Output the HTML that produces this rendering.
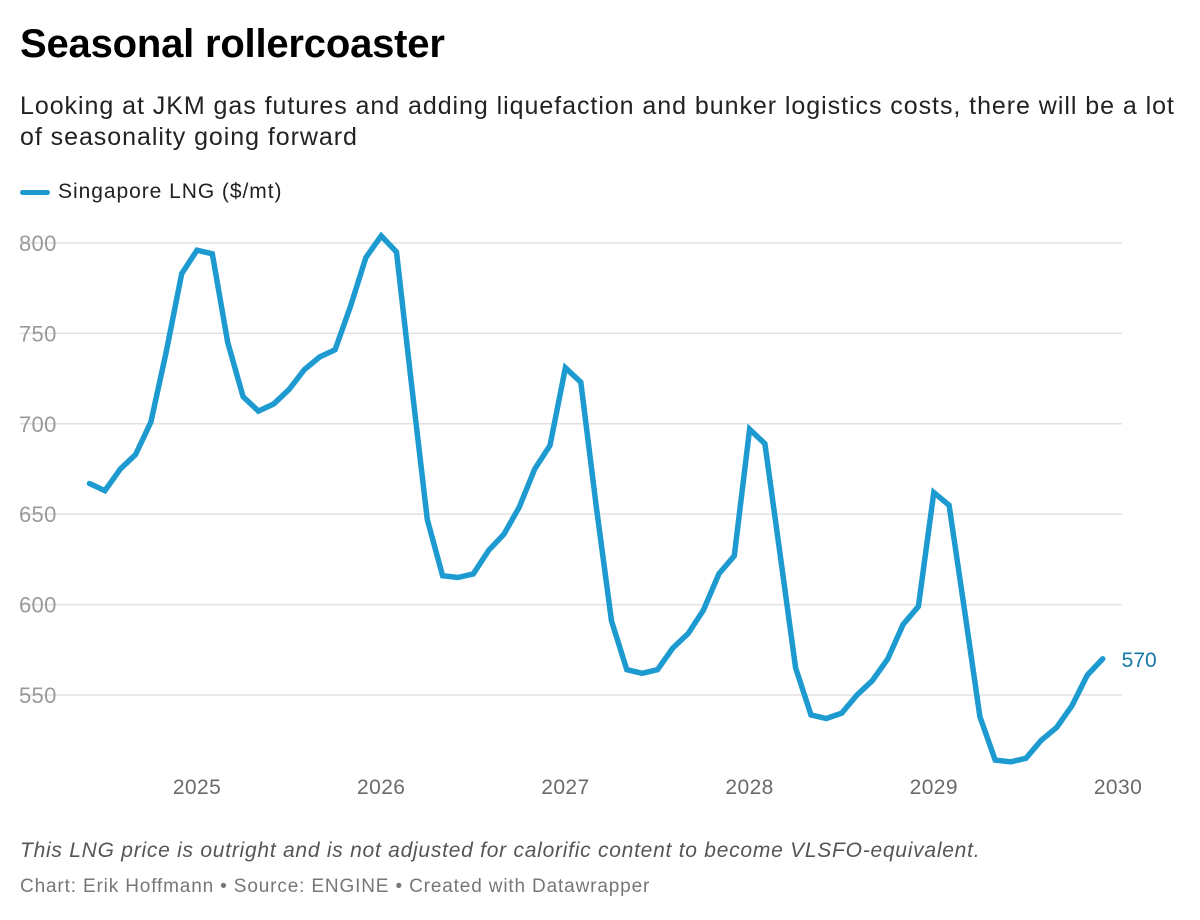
<!DOCTYPE html>
<html><head><meta charset="utf-8">
<style>
body{margin:0;background:#fff;font-family:"Liberation Sans",sans-serif;width:1200px;height:920px;overflow:hidden;position:relative}
#title{position:absolute;left:20px;top:22px;font-size:40px;font-weight:bold;color:#000;letter-spacing:-0.2px;white-space:nowrap}
#sub{position:absolute;left:20px;top:91px;font-size:25px;line-height:31px;color:#222;letter-spacing:0.95px;white-space:nowrap}
#legend{position:absolute;left:20px;top:180px;font-size:21px;color:#222;display:flex;align-items:center;letter-spacing:0.95px}
#legend span.sw{display:inline-block;width:30px;height:5px;background:#1d9bd0;border-radius:3px;margin-right:8px}
#note{position:absolute;left:20px;top:839px;font-size:21px;font-style:italic;color:#555;letter-spacing:0.75px;white-space:nowrap}
#credit{position:absolute;left:20px;top:876px;font-size:19px;color:#777;letter-spacing:0.85px;white-space:nowrap}
svg{position:absolute;left:0;top:0}
</style></head><body>
<div id="title">Seasonal rollercoaster</div>
<div id="sub">Looking at JKM gas futures and adding liquefaction and bunker logistics costs, there will be a lot<br>of seasonality going forward</div>
<div id="legend"><span class="sw"></span>Singapore LNG ($/mt)</div>
<svg id="chart" width="1200" height="920"></svg>
<div id="note">This LNG price is outright and is not adjusted for calorific content to become VLSFO-equivalent.</div>
<div id="credit">Chart: Erik Hoffmann • Source: ENGINE • Created with Datawrapper</div>
<script>
const startMonth = 5; // months since Jan 2024 (Jun 2024)
const values = [667,663,675,683,701,740,783,
796,794,745,715,707,711,719,730,737,741,765,792,
804,795,720,647,616,615,617,630,639,654,675,688,
731,723,655,591,564,562,564,576,584,597,617,627,
697,689,627,565,539,537,540,550,558,570,589,599,
662,655,597,538,514,513,515,525,532,544,561,570];
const yTicks = [550,600,650,700,750,800];
const xTicks = [2025,2026,2027,2028,2029,2030];

const NS="http://www.w3.org/2000/svg";
const svg=document.getElementById('chart');
const y=v=>243+(800-v)*(452/250);
const x=m=>197+(m-12)*(921/60);
function el(t,a){const e=document.createElementNS(NS,t);for(const k in a)e.setAttribute(k,a[k]);svg.appendChild(e);return e;}
yTicks.forEach(v=>{
  const g=el('line',{x1:20,x2:1122,y1:y(v),y2:y(v),stroke:'#e2e2e2','stroke-width':1.5});
  
  
  const t=el('text',{x:19,y:y(v)+8,'font-size':22,fill:'#9a9a9a','font-family':'Liberation Sans, sans-serif','letter-spacing':'0.3'});
  t.textContent=v;
  
  
});
xTicks.forEach(yr=>{
  const t=el('text',{x:x((yr-2024)*12),y:794,'font-size':21,fill:'#6a6a6a','text-anchor':'middle','font-family':'Liberation Sans, sans-serif','letter-spacing':'0.4'});
  t.textContent=yr;
  
  
});
const pts=values.map((v,i)=>x(startMonth+i).toFixed(1)+','+y(v).toFixed(1)).join(' ');
const pl=el('polyline',{points:pts,fill:'none',stroke:'#1d9bd0','stroke-width':5.5,'stroke-linejoin':'miter','stroke-linecap':'round'});


const last=values[values.length-1];
const lab=el('text',{x:x(startMonth+values.length-1)+19,y:y(last)+8,'font-size':21,fill:'#1578a8','font-family':'Liberation Sans, sans-serif'});
lab.textContent=last;


</script>
</body></html>
